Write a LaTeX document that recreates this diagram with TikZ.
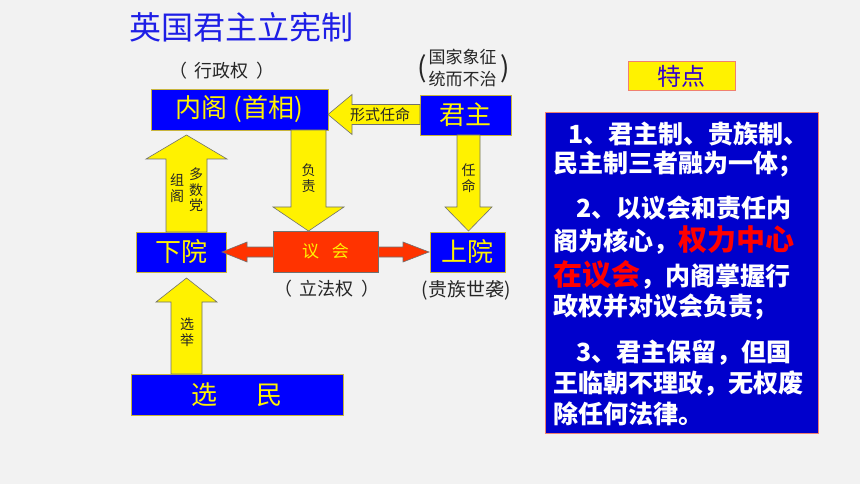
\documentclass[tikz,border=0pt]{standalone}
\usepackage{fontspec}
\setmainfont{Noto Sans CJK SC}
\definecolor{bgcol}{HTML}{F2F2F2}
\definecolor{boxblue}{HTML}{0000FF}
\definecolor{boxedge}{HTML}{C8B43C}
\definecolor{arrowedge}{HTML}{707070}
\definecolor{councilred}{HTML}{FF3300}
\definecolor{panelblue}{HTML}{0000CC}
\definecolor{paneledge}{HTML}{F08070}
\definecolor{titleblue}{HTML}{1E1EE6}
\definecolor{tdtext}{HTML}{3300CC}
\definecolor{labelgray}{HTML}{262626}
\definecolor{hotred}{HTML}{FF0000}
\newcommand\vbarrow[7]{\draw[#1] ({#2-#5},#3) -- ({#2-#5},#7) -- ({#2-#6},#7) -- (#2,#4) -- ({#2+#6},#7) -- ({#2+#5},#7) -- ({#2+#5},#3) -- cycle;}
\newcommand\hbarrow[7]{\draw[#1] (#3,{#2-#5}) -- (#7,{#2-#5}) -- (#7,{#2-#6}) -- (#4,#2) -- (#7,{#2+#6}) -- (#7,{#2+#5}) -- (#3,{#2+#5}) -- cycle;}
\newcommand\fs[1]{\fontsize{#1}{#1}\selectfont}
\begin{document}
\begin{tikzpicture}[x=1pt,y=-1pt,
  bluebox/.style={draw=boxedge, line width=0.6pt, fill=boxblue, text=yellow, inner sep=0pt, outer sep=0pt},
  yarrow/.style={draw=arrowedge, line width=0.6pt, fill=yellow},
  rarrow/.style={draw=arrowedge, line width=0.6pt, fill=councilred},
  lbl/.style={text=labelgray, inner sep=0pt},
  vlbl/.style={text=labelgray, inner sep=0pt, align=center, font=\fontsize{14}{15.5}\selectfont},
  pline/.style={anchor=base west, inner sep=0pt, text=white, font=\fontsize{25}{30}\selectfont\bfseries},
]
\fill[bgcol] (0,0) rectangle (860,484);
\useasboundingbox (0,0) rectangle (860,484);

% title
\node[text=titleblue, inner sep=0pt, font=\fs{32}] (title) at (241,27.5) {英国君主立宪制};

% boxes
\node[bluebox, minimum width=177pt, minimum height=41pt, font=\fs{26}] (naige) at (239.5,109.5) {内阁 (首相)};
\node[bluebox, minimum width=91pt, minimum height=40pt, font=\fs{26}] (junzhu) at (465.5,115) {君主};
\node[bluebox, minimum width=90pt, minimum height=40pt, font=\fs{26}] (xiayuan) at (181,252) {下院};
\node[bluebox, minimum width=75pt, minimum height=40pt, font=\fs{26}] (shangyuan) at (467.5,252) {上院};
\node[bluebox, minimum width=212pt, minimum height=41pt, font=\fs{26}] (xuanmin) at (237,394.5) {选\hspace{39pt}民};

% arrows
\vbarrow{yarrow}{186.5}{232}{135}{20.5}{40.5}{159}
\vbarrow{yarrow}{308.5}{130}{231}{17.5}{35.5}{207}
\vbarrow{yarrow}{468.5}{135}{231}{11.5}{23.5}{207}
\vbarrow{yarrow}{186.5}{374}{278}{15.5}{30.5}{302}
\hbarrow{yarrow}{114.5}{420}{328}{10}{20}{352}
\draw[rarrow] (222,252) -- (247,242) -- (247,247) -- (403,247) -- (403,242) -- (429,252) -- (403,262) -- (403,257) -- (247,257) -- (247,262) -- cycle;

\node[draw=arrowedge, line width=0.6pt, fill=councilred, text=yellow, inner sep=0pt, outer sep=0pt, minimum width=105pt, minimum height=41pt, font=\fs{17}] (yihui) at (325.5,251.5) {议\hspace{13pt}会};

% arrow labels
\node[lbl, font=\fs{15}] (xsrm) at (380,115) {形式任命};
\node[vlbl] (zuge) at (177,188) {组\\阁};
\node[vlbl] (dsd) at (196,190) {多\\数\\党};
\node[vlbl] (fuze) at (308.5,178) {负\\责};
\node[vlbl] (renming) at (468.5,178) {任\\命};
\node[vlbl] (xuanju) at (187,332) {选\\举};

% labels
\node[lbl, font=\fs{18}] (xzq) at (222,71) {（\hspace{8pt}行政权\hspace{8pt}）};
\node[lbl, font=\fs{18}] (lfq) at (327,288.5) {（\hspace{8pt}立法权\hspace{8pt}）};
\node[lbl, font=\fs{19}] (gzsx) at (466,290) {(贵族世袭)};
\node[lbl, align=center, font=\fontsize{17}{21.5}\selectfont] (gjxz) at (462.5,68) {国家象征\\统而不治};
\node[lbl, font=\fs{28}] (lp) at (422,69) {(};
\node[lbl, font=\fs{28}] (rp) at (505,69) {)};

% right panel
\node[draw=paneledge, line width=1pt, fill=yellow, text=tdtext, inner sep=0pt, outer sep=0pt, minimum width=107pt, minimum height=29pt, font=\fs{24}] (tedian) at (681.5,76.5) {特点};
\node[draw=paneledge, line width=1pt, fill=panelblue, inner sep=0pt, outer sep=0pt, minimum width=273pt, minimum height=320pt] (panel) at (681.5,273) {};

\node[pline] (l1) at (568,144) {1、君主制、贵族制、};
\node[pline] (l2) at (553,172) {民主制三者融为一体；};
\node[pline] (l3) at (576,218) {2、以议会和责任内};
\node[pline] (l4) at (553,251) {阁为核心，\textcolor{hotred}{\fontsize{29}{30}\selectfont 权力中心}};
\node[pline] (l5) at (553,285) {\textcolor{hotred}{\fontsize{29}{30}\selectfont 在议会}，内阁掌握行};
\node[pline] (l6) at (553,315.5) {政权并对议会负责；};
\node[pline] (l7) at (576,361.5) {3、君主保留，但国};
\node[pline] (l8) at (553,392.5) {王临朝不理政，无权废};
\node[pline] (l9) at (553,423) {除任何法律。};
\end{tikzpicture}
\end{document}
